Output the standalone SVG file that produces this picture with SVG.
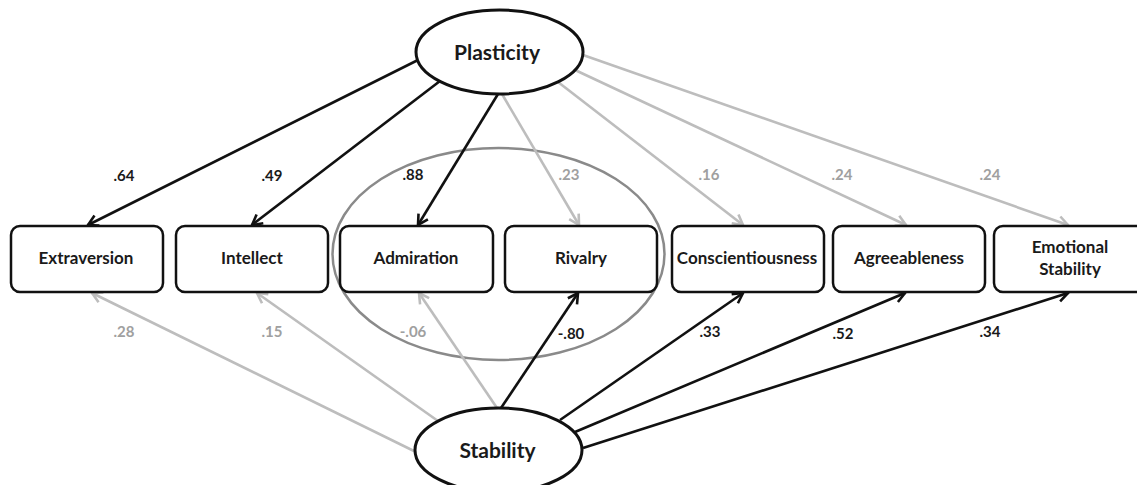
<svg xmlns="http://www.w3.org/2000/svg" width="1137" height="485" viewBox="0 0 1137 485">
<style>
.box{fill:#fff;stroke:#111;stroke-width:2.5}
.lat{fill:#fff;stroke:#111;stroke-width:3}
.bt{font-family:Lato,"Liberation Sans",sans-serif;font-weight:bold;font-size:17px;fill:#1a1a1a;text-anchor:middle}
.lt{font-family:Lato,"Liberation Sans",sans-serif;font-weight:bold;font-size:21px;fill:#1a1a1a;text-anchor:middle}
.lb{font-family:Lato,"Liberation Sans",sans-serif;font-weight:bold;font-size:15px;text-anchor:middle}
.dk{fill:#1a1a1a}.lg{fill:#a0a0a0}
.ab{stroke:#111;stroke-width:2.6;fill:none;marker-end:url(#mb)}
.ag{stroke:#bdbdbd;stroke-width:2.6;fill:none;marker-end:url(#mg)}
</style>
<defs>
<marker id="mb" markerUnits="userSpaceOnUse" markerWidth="14" markerHeight="14" refX="11" refY="6" orient="auto" overflow="visible"><path d="M1,0.5 L11,6 L1,11.5" fill="none" stroke="#111" stroke-width="2.6"/></marker>
<marker id="mg" markerUnits="userSpaceOnUse" markerWidth="14" markerHeight="14" refX="11" refY="6" orient="auto" overflow="visible"><path d="M1,0.5 L11,6 L1,11.5" fill="none" stroke="#bdbdbd" stroke-width="2.6"/></marker>
</defs>
<g id="group-ellipse"><ellipse cx="498.5" cy="254" rx="166" ry="106" fill="none" stroke="#8a8a8a" stroke-width="2.5"/></g>
<g id="connectors">
<line class="ab" x1="418" y1="60" x2="88" y2="225"/>
<line class="ab" x1="440" y1="81" x2="252" y2="225"/>
<line class="ab" x1="498" y1="94" x2="418" y2="225"/>
<line class="ag" x1="502" y1="94" x2="579" y2="225"/>
<line class="ag" x1="558" y1="82" x2="743" y2="225"/>
<line class="ag" x1="575" y1="70" x2="906" y2="225"/>
<line class="ag" x1="583" y1="55" x2="1068" y2="225"/>
<line class="ag" x1="416" y1="452" x2="92" y2="293"/>
<line class="ag" x1="438" y1="421" x2="257" y2="293"/>
<line class="ag" x1="497" y1="408" x2="419" y2="293"/>
<line class="ab" x1="501" y1="408" x2="578" y2="293"/>
<line class="ab" x1="560" y1="420" x2="743" y2="293"/>
<line class="ab" x1="575" y1="432" x2="905" y2="293"/>
<line class="ab" x1="583" y1="448" x2="1068" y2="293"/>
</g>
<g id="labels">
<text class="lb dk" x="124" y="181">.64</text>
<text class="lb dk" x="272" y="181">.49</text>
<text class="lb dk" x="413" y="180">.88</text>
<text class="lb lg" x="569" y="180">.23</text>
<text class="lb lg" x="709" y="180">.16</text>
<text class="lb lg" x="842" y="180">.24</text>
<text class="lb lg" x="990" y="180">.24</text>
<text class="lb lg" x="124" y="337">.28</text>
<text class="lb lg" x="272" y="337">.15</text>
<text class="lb lg" x="413" y="337">-.06</text>
<text class="lb dk" x="571" y="339">-.80</text>
<text class="lb dk" x="710" y="337">.33</text>
<text class="lb dk" x="843" y="339">.52</text>
<text class="lb dk" x="990" y="337">.34</text>
</g>
<g id="plasticity"><ellipse class="lat" cx="499.5" cy="52" rx="83.5" ry="42"/><text class="lt" x="497" y="60">Plasticity</text></g>
<g id="stability"><ellipse class="lat" cx="498.5" cy="450" rx="83.5" ry="42"/><text class="lt" x="497.5" y="458">Stability</text></g>
<g id="extraversion"><rect class="box" x="11" y="226" width="152" height="66" rx="9"/><text class="bt" x="86" y="264">Extraversion</text></g>
<g id="intellect"><rect class="box" x="176" y="226" width="152" height="66" rx="9"/><text class="bt" x="252" y="264">Intellect</text></g>
<g id="admiration"><rect class="box" x="340" y="226" width="153" height="66" rx="9"/><text class="bt" x="416" y="264">Admiration</text></g>
<g id="rivalry"><rect class="box" x="505" y="226" width="152" height="66" rx="9"/><text class="bt" x="581" y="264">Rivalry</text></g>
<g id="conscientiousness"><rect class="box" x="672" y="226" width="152" height="66" rx="9"/><text class="bt" x="747" y="264">Conscientiousness</text></g>
<g id="agreeableness"><rect class="box" x="833" y="226" width="152" height="66" rx="9"/><text class="bt" x="909" y="264">Agreeableness</text></g>
<g id="emotional-stability"><rect class="box" x="994" y="226" width="152" height="66" rx="9"/><text class="bt" x="1070" y="253">Emotional</text><text class="bt" x="1070" y="275">Stability</text></g>
</svg>
